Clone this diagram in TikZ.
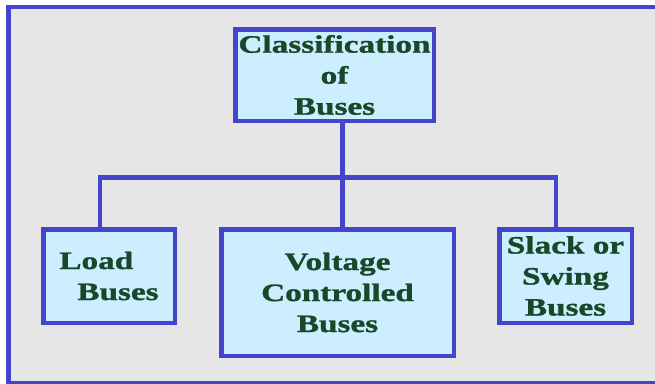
\documentclass[tikz,border=0pt]{standalone}
\usepackage{fontspec}
\newfontfamily\busfont[FakeStretch=1.33,BoldFeatures={FakeBold=1.2}]{Liberation Serif}
\definecolor{bgray}{RGB}{230,230,230}
\definecolor{bblue}{RGB}{68,68,204}
\definecolor{bfill}{RGB}{204,238,255}
\definecolor{tgreen}{RGB}{24,72,40}
\tikzset{
  busbox/.style={draw=bblue, line width=4.5pt, fill=bfill, inner sep=0pt,
    text=tgreen, font=\busfont\bfseries\fontsize{25}{31}\selectfont},
  conn/.style={draw=bblue, line width=4.5pt},
  frameline/.style={draw=bblue, line width=4.5pt, line join=miter}
}
\begin{document}
\begin{tikzpicture}[x=1pt,y=-1pt]
\useasboundingbox (0,0) rectangle (655,383);
\clip (0,0) rectangle (655,383);
\fill[white] (0,0) rectangle (655,383);
\fill[bgray] (8.5,7) rectangle (655,383);
\draw[frameline] (660,7) -- (8.5,7) -- (8.5,383.6) -- (660,383.6);
\node[busbox, minimum width=198.5pt, minimum height=91.5pt, align=center] (top) at (334.5,75)
  {Classification\\of\\Buses};
\node[busbox, minimum width=131.5pt, minimum height=93.5pt, align=left] (load) at (109,276)
  {Load\\\hspace*{18pt}Buses};
\node[busbox, minimum width=232.5pt, minimum height=126.5pt, align=center] (volt) at (337.5,292.5)
  {Voltage\\Controlled\\Buses};
\node[busbox, minimum width=132.5pt, minimum height=93.5pt, align=center] (slack) at (565.5,276)
  {Slack or\\Swing\\Buses};
\coordinate (bus) at (342.5,177.5);
\draw[conn] ([xshift=8pt]top.south) -- ([xshift=5pt]volt.north);
\draw[conn] ([xshift=-9pt]load.north) |- (bus) -| ([xshift=-9.5pt]slack.north);
\end{tikzpicture}
\end{document}
